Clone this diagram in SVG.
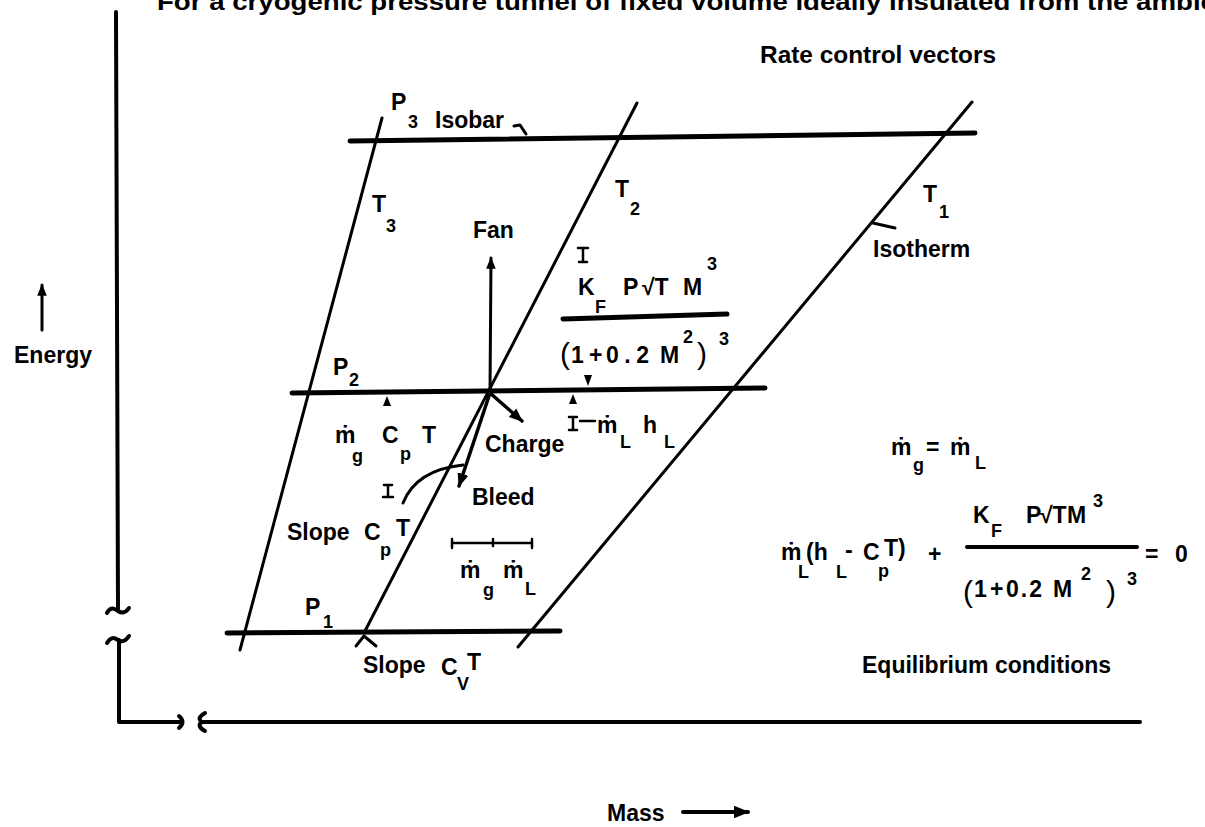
<svg xmlns="http://www.w3.org/2000/svg" width="1205" height="827" viewBox="0 0 1205 827">
<style>
text{font-family:"Liberation Sans","DejaVu Sans",sans-serif;font-weight:bold;fill:#000;font-size:23px}
.s{font-size:18px}
.big{font-size:30px;font-weight:normal}
.ln{stroke:#000;fill:none;stroke-linecap:round;stroke-linejoin:round}
.iso{stroke-width:5}
.th{stroke-width:3}
.ax{stroke-width:4}
.tk{stroke-width:2.5}
</style>
<defs>
<marker id="ah" viewBox="0 0 10 10" refX="9" refY="5" markerWidth="4" markerHeight="4" orient="auto" markerUnits="strokeWidth">
<path d="M0,1 L10,5 L0,9 Z" fill="#000"/>
</marker>
</defs>
<rect width="1205" height="827" fill="#fff"/>
<text x="157" y="10" textLength="1085" lengthAdjust="spacingAndGlyphs" font-size="24">For a cryogenic pressure tunnel of fixed volume ideally insulated from the ambient</text>
<text x="760" y="63" textLength="236" lengthAdjust="spacingAndGlyphs">Rate control vectors</text>

<g id="axes" class="ln ax">
<path d="M116,12 L118,609"/>
<path d="M107,613 C111,606 115,609 118,611 C121,613 125,614 129,608"/>
<path d="M107,643 C111,636 115,638 118,640 C121,642 125,642 129,636"/>
<path d="M119,640 L119,722 L180,722"/>
<path d="M179,716 Q186,722 179,728"/>
<path d="M205,713 Q196,718 202,722 Q196,726 205,731"/>
<path d="M202,722 L1140,722"/>
<path d="M42,330 L42,285" marker-end="url(#ah)" stroke-width="3"/>
<path d="M683,812 L748,812" marker-end="url(#ah)"/>
</g>
<text x="14" y="363">Energy</text>
<text x="607" y="821" font-size="24">Mass</text>

<g id="isobars" class="ln iso">
<path d="M350,141 L975,133"/>
<path d="M292,393 L765,388"/>
<path d="M227,633 L560,631"/>
</g>
<g id="isotherms" class="ln th">
<path d="M382,118 L240,650"/>
<path d="M637,103 L364,633"/>
<path d="M972,102 L518,647"/>
</g>

<g id="p3-label">
<text x="391" y="110">P</text><text class="s" x="408" y="128">3</text>
<text x="435" y="128">Isobar</text>
<path class="ln th" d="M514,126 L520,125 L526,134"/>
</g>
<g id="t-labels">
<text x="372" y="212">T</text><text class="s" x="386" y="232">3</text>
<text x="615" y="197">T</text><text class="s" x="630" y="215">2</text>
<text x="923" y="202">T</text><text class="s" x="939" y="218">1</text>
<text x="873" y="257">Isotherm</text>
<path class="ln th" d="M873,223 L895,228"/>
</g>

<g id="vectors" class="ln">
<path d="M490,393 L491,258" stroke-width="3" marker-end="url(#ah)"/>
<path d="M490,393 L522,421" stroke-width="3.5" marker-end="url(#ah)"/>
<path d="M490,393 L459,486" stroke-width="3.5" marker-end="url(#ah)"/>
<path d="M403,503 Q416,470 463,465" stroke-width="3"/>
</g>
<text x="473" y="238">Fan</text>
<text x="485" y="452">Charge</text>
<text x="472" y="505">Bleed</text>

<g id="fan-term">
<path class="ln tk" d="M578,248 L588,248 M583,248 L583,262 M579,262 L587,262"/>
<path d="M584,375 L592,375 L588,386 Z"/>
<text x="578" y="295">K</text><text class="s" x="595" y="313">F</text>
<text x="623" y="295">P</text><text x="642" y="295">√T</text><text x="683" y="295">M</text><text class="s" x="707" y="270">3</text>
<path class="ln" stroke-width="5" d="M563,319 L727,314"/>
<text class="big" x="560" y="364">(</text>
<text x="571" y="363">1</text><text x="589" y="363">+</text><text x="606" y="363" textLength="43" lengthAdjust="spacing">0.2</text><text x="660" y="363">M</text><text class="s" x="683" y="343">2</text>
<text class="big" x="697" y="364">)</text><text class="s" x="719" y="345">3</text>
</g>

<g id="p2-label">
<text x="333" y="375">P</text><text class="s" x="349" y="386">2</text>
</g>
<g id="gas-term">
<path d="M387,396 L383,406 L391,406 Z"/>
<path class="ln tk" d="M384,485 L392,485 M388,485 L388,497 M383,497 L393,497"/>
<text x="335" y="443">ṁ</text><text class="s" x="352" y="462">g</text>
<text x="382" y="443">C</text><text class="s" x="400" y="460">p</text>
<text x="422" y="443">T</text>
</g>
<g id="liquid-term">
<path d="M573,394 L569,404 L577,404 Z"/>
<path class="ln tk" d="M569,417 L577,417 M573,417 L573,430 M569,430 L577,430 M580,421 L595,421"/>
<text x="597" y="433">ṁ</text><text class="s" x="620" y="448">L</text>
<text x="643" y="433">h</text><text class="s" x="664" y="448">L</text>
</g>

<g id="slope-cp">
<text x="287" y="540">Slope</text>
<text x="364" y="540">C</text><text class="s" x="380" y="556">p</text>
<text x="396" y="536">T</text>
</g>
<g id="mass-rates">
<path class="ln tk" d="M452,539 L452,548 M452,543 L532,543 M532,539 L532,548 M493,539 L493,546"/>
<text x="460" y="578">ṁ</text><text class="s" x="483" y="596">g</text>
<text x="503" y="578">ṁ</text><text class="s" x="525" y="595">L</text>
</g>
<g id="p1-label">
<text x="305" y="615">P</text><text class="s" x="323" y="628">1</text>
</g>
<g id="slope-cv">
<path class="ln th" d="M356,646 L364,636 L376,646"/>
<text x="363" y="673">Slope</text>
<text x="441" y="675">C</text><text class="s" x="457" y="690">V</text>
<text x="467" y="670">T</text>
</g>

<g id="equilibrium">
<text x="891" y="455">ṁ</text><text class="s" x="913" y="471">g</text>
<text x="926" y="455">=</text>
<text x="950" y="455">ṁ</text><text class="s" x="975" y="469">L</text>
<text x="781" y="560">ṁ</text><text class="s" x="798" y="578">L</text>
<text x="806" y="560" font-size="20">(h</text><text class="s" x="836" y="578">L</text>
<text x="845" y="558">-</text><text x="863" y="560">C</text><text class="s" x="878" y="577">p</text>
<text x="884" y="556" font-size="20">T)</text>
<text x="928" y="562">+</text>
<text x="973" y="523">K</text><text class="s" x="991" y="537">F</text>
<text x="1026" y="523">P</text><text x="1040" y="523">√T</text><text x="1067" y="523">M</text><text class="s" x="1093" y="507">3</text>
<path class="ln" stroke-width="4" d="M967,547 L1137,547"/>
<text class="big" x="963" y="602">(</text>
<text x="974" y="597">1</text><text x="990" y="597">+</text><text x="1006" y="597" textLength="36" lengthAdjust="spacing">0.2</text><text x="1053" y="597">M</text><text class="s" x="1081" y="580">2</text>
<text class="big" x="1106" y="602">)</text><text class="s" x="1127" y="585">3</text>
<text x="1145" y="562">=</text>
<text x="1175" y="562">0</text>
<text x="862" y="673">Equilibrium conditions</text>
</g>
</svg>
